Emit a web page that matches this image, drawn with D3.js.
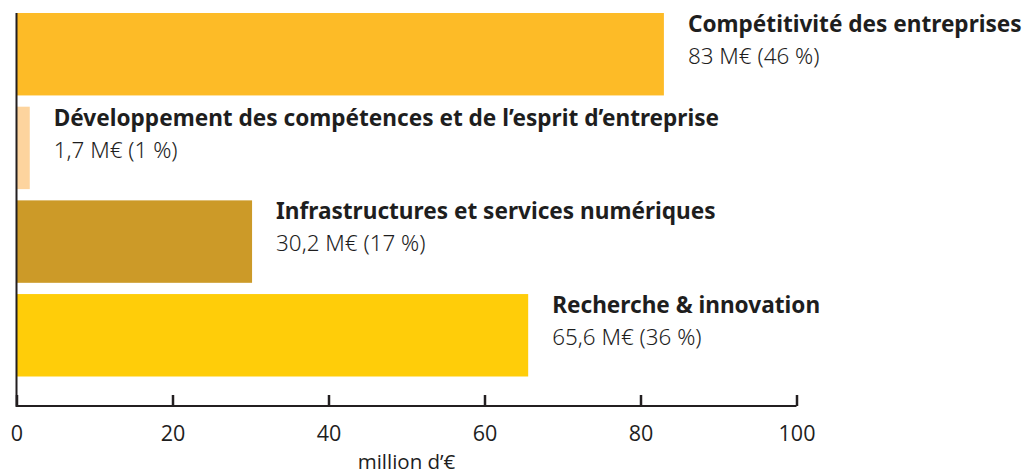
<!DOCTYPE html>
<html>
<head>
<meta charset="utf-8">
<script src="https://cdn.jsdelivr.net/npm/d3@7"></script>
<style>
  body { margin: 0; background: #fff; }
  text { font-family: "Noto Sans", sans-serif; fill: #1e1e1e; }
</style>
</head>
<body>
<div id="chart"></div>
<script>
// data
var categories = [
    "Compétitivité des entreprises",
    "Développement des compétences et de l’esprit d’entreprise",
    "Infrastructures et services numériques",
    "Recherche & innovation"
];
var values = [83, 1.7, 30.2, 65.6];
var valueLabels = ["83 M€ (46 %)", "1,7 M€ (1 %)", "30,2 M€ (17 %)", "65,6 M€ (36 %)"];
var colors = ["#fdbb27", "#fdd49e", "#cc9a28", "#ffcd09"];
var xTicks = [0, 20, 40, 60, 80, 100];
var axisTitle = "million d’€";

var width = 1029, height = 474;

var svg = d3.select("#chart").append("svg")
    .attr("width", width)
    .attr("height", height);

var x = d3.scaleLinear().domain([0, 100]).range([16.5, 796.5]);
var y = d3.scaleBand().domain(categories).range([13, 376.5]).paddingInner(0.12).paddingOuter(0);

var rows = categories.map(function (c, i) {
    return {name: c, value: values[i], label: valueLabels[i], color: colors[i]};
});

// bars
svg.selectAll("rect.bar")
    .data(rows)
    .enter()
    .append("rect")
    .attr("class", "bar")
    .attr("x", x(0))
    .attr("y", function (d) { return y(d.name); })
    .attr("width", function (d) { return x(d.value) - x(0); })
    .attr("height", y.bandwidth())
    .attr("fill", function (d) { return d.color; });

// labels next to each bar
var lab = svg.selectAll("g.lab")
    .data(rows)
    .enter()
    .append("g")
    .attr("class", "lab")
    .attr("transform", function (d) {
        return "translate(" + (x(d.value) + 24) + "," + y(d.name) + ")";
    });

lab.append("text")
    .attr("y", 19)
    .style("font-size", "22.6px")
    .style("font-weight", "bold")
    .text(function (d) { return d.name; });

lab.append("text")
    .attr("y", 51)
    .style("font-size", "22.4px")
    .style("font-weight", 300)
    .text(function (d) { return d.label; });

// x axis
var axisY = 406;
var xAxis = svg.append("g")
    .attr("transform", "translate(0," + axisY + ")")
    .call(d3.axisBottom(x).tickValues(xTicks).tickSize(-11).tickPadding(0).tickFormat(d3.format("d")));

xAxis.select(".domain").remove();
xAxis.append("line")
    .attr("x1", x(0)).attr("x2", x(100))
    .attr("stroke", "#231f20").attr("stroke-width", 2);
xAxis.selectAll(".tick line")
    .attr("stroke", "#231f20").attr("stroke-width", 2.5);
xAxis.selectAll(".tick text")
    .attr("y", 35)
    .attr("dy", 0)
    .style("font-size", "21.5px")
    .style("font-family", "'Open Sans', sans-serif")
    .attr("fill", "#231f20");

// y axis line
svg.append("line")
    .attr("x1", x(0)).attr("x2", x(0))
    .attr("y1", 13).attr("y2", axisY + 1)
    .attr("stroke", "#231f20").attr("stroke-width", 2);

svg.append("text")
    .attr("x", x(50))
    .attr("y", 469)
    .attr("text-anchor", "middle")
    .style("font-size", "20.5px")
    .style("font-family", "'Open Sans', sans-serif")
    .text(axisTitle);
</script>
</body>
</html>
